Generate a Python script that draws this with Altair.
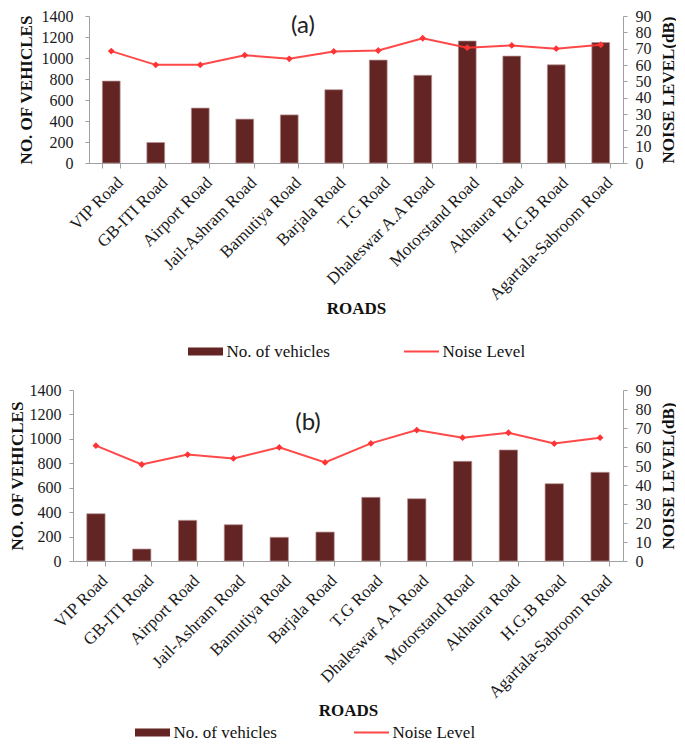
import altair as alt
import pandas as pd

roads = ["VIP Road", "GB-ITI Road", "Airport Road", "Jail-Ashram Road", "Bamutiya Road",
         "Barjala Road", "T.G Road", "Dhaleswar A.A Road", "Motorstand Road", "Akhaura Road",
         "H.G.B Road", "Agartala-Sabroom Road"]
vehicles_a = [780, 195, 523, 418, 458, 698, 980, 835, 1162, 1018, 935, 1147]
noise_a = [68.5, 60.1, 60.1, 66.0, 63.8, 68.3, 68.9, 76.4, 70.6, 72.0, 70.0, 72.4]
vehicles_b = [387, 98, 333, 297, 194, 237, 521, 510, 816, 909, 633, 726]
noise_b = [60.7, 50.8, 56.0, 54.0, 59.8, 51.9, 61.9, 68.9, 64.9, 67.5, 61.8, 64.9]
vehicle_ticks = [0, 200, 400, 600, 800, 1000, 1200, 1400]
noise_ticks = [0, 10, 20, 30, 40, 50, 60, 70, 80, 90]
series = ["No. of vehicles", "Noise Level"]

BAR = "#632523"
LINE = "#FF3434"
AXIS = "#A0A0A0"
SERIF = "Liberation Serif"


def panel(veh, noi, label, width, height, x_range, y_off, y_lpad, y_tpad, x_tpad,
          leg_bar_x, leg_line_x, leg_y, lab_x, lab_y):
    df = pd.DataFrame({"road": roads, "vehicles": veh, "noise": noi,
                       "s_bar": series[0], "s_line": series[1]})
    xscale = dict(paddingInner=0.6, paddingOuter=0.3)
    if x_range is not None:
        xscale["range"] = x_range
    base = alt.Chart(df).encode(
        x=alt.X("road:N", sort=roads, scale=alt.Scale(**xscale), title="ROADS",
                axis=alt.Axis(labelAngle=-45, labelAlign="right", labelBaseline="top",
                              labelPadding=6, labelOffset=3, tickSize=5, tickBand="extent",
                              titlePadding=x_tpad, labelFontSize=17, labelFont=SERIF,
                              labelOverlap=False, labelLimit=300))
    )
    bars = base.mark_bar(stroke="#B89494", strokeWidth=0.7).encode(
        y=alt.Y("vehicles:Q", scale=alt.Scale(domain=[0, 1400], nice=False),
                title="NO. OF VEHICLES",
                axis=alt.Axis(values=vehicle_ticks, format="d", offset=y_off, tickSize=4,
                              labelPadding=y_lpad, titlePadding=y_tpad, labelFont=SERIF,
                              labelFontSize=16, labelOverlap=False)),
        fill=alt.Fill("s_bar:N", scale=alt.Scale(domain=[series[0]], range=[BAR]),
                      legend=alt.Legend(orient="none", legendX=leg_bar_x, legendY=leg_y,
                                        title=None,
                                        symbolType="M-3.5,-0.8H3.5V0.8H-3.5Z",
                                        symbolSize=100, symbolStrokeWidth=0,
                                        labelOffset=12.5, padding=0)),
    )
    line = base.mark_line(strokeWidth=2, opacity=0.9,
                          point=alt.OverlayMarkDef(filled=True, fill=LINE, shape="diamond",
                                                   size=16)).encode(
        y=alt.Y("noise:Q", scale=alt.Scale(domain=[0, 90], nice=False),
                title="NOISE LEVEL(dB)",
                axis=alt.Axis(orient="right", values=noise_ticks, format="d", tickSize=4,
                              labelPadding=8, titlePadding=9, titleAngle=270,
                              titleBaseline="top", labelFont=SERIF, labelFontSize=16,
                              labelOverlap=False)),
        stroke=alt.Stroke("s_line:N", scale=alt.Scale(domain=[series[1]], range=[LINE]),
                          legend=alt.Legend(orient="none", legendX=leg_line_x, legendY=leg_y,
                                            title=None, symbolType="M-3.5,0H3.5",
                                            symbolSize=100, symbolStrokeWidth=2,
                                            labelOffset=12.5, padding=0)),
    )
    txt = alt.Chart(pd.DataFrame({"t": [label]})).mark_text(
        font="Lato", fontSize=24, color="#222222", align="center", baseline="middle"
    ).encode(text="t:N", x=alt.value(lab_x), y=alt.value(lab_y))
    return alt.layer(bars, line, txt).resolve_scale(y="independent").properties(
        width=width, height=height)


top = panel(vehicles_a, noise_a, "(a)", 534, 147, None, 0, 12, 6, -2,
            108, 324, 327, 214, 10)
bottom = panel(vehicles_b, noise_b, "(b)", 534, 171, [-16, 534], 16, 8, 3, 2,
               55, 274, 334, 219, 33)

chart = alt.vconcat(top, bottom, spacing=22).resolve_scale(
    x="independent", y="independent", fill="independent", stroke="independent"
).resolve_legend(fill="independent", stroke="independent").properties(
    padding={"top": 0, "left": 0, "right": 0, "bottom": 0}
).configure_view(stroke=None).configure_axis(
    grid=False, domainColor=AXIS, tickColor=AXIS, labelColor="#1a1a1a",
    labelFont=SERIF, labelFontSize=17, titleFont=SERIF, titleFontSize=17,
    titleFontWeight="bold", titleColor="#111111"
).configure_legend(labelFont=SERIF, labelFontSize=17, labelColor="#111111")

chart.save("out.html", embed_options={"renderer": "svg", "actions": False})
